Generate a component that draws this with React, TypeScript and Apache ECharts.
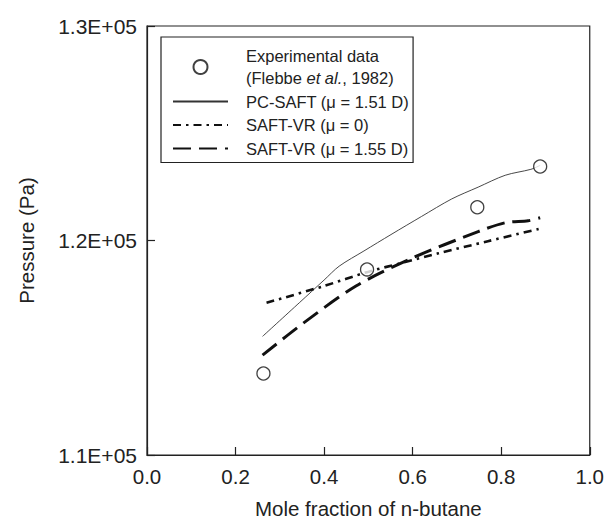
import React, { useEffect, useRef } from "react";
import * as echarts from "echarts";

const expX = [0.263, 0.497, 0.746, 0.888];
const expY = [113800, 118650, 121550, 123450];

const pcX = [0.261, 0.344, 0.4, 0.434, 0.49, 0.551, 0.62, 0.688, 0.748, 0.809, 0.867, 0.888];
const pcY = [115530, 117097, 118157, 118802, 119512, 120276, 121120, 121935, 122488, 123041, 123318, 123502];

const vr0X = [0.27, 0.4, 0.497, 0.58, 0.658, 0.77, 0.888];
const vr0Y = [117097, 117880, 118525, 118980, 119401, 119968, 120553];

const vr155X = [0.261, 0.35, 0.472, 0.598, 0.748, 0.809, 0.861, 0.888];
const vr155Y = [114654, 116100, 117880, 119171, 120415, 120829, 120922, 121060];

const seriesNames = [
  "Experimental data",
  "PC-SAFT (\u03bc = 1.51 D)",
  "SAFT-VR (\u03bc = 0)",
  "SAFT-VR (\u03bc = 1.55 D)",
];

const xTicks = { min: 0, max: 1, interval: 0.2 };
const yTicks = { min: 110000, max: 130000, interval: 10000 };

const pair = (xs: number[], ys: number[]) => xs.map((x, i) => [x, ys[i]]);

const FONT = "Liberation Sans, Arial, Helvetica, sans-serif";
const INK = "#222";
const HIDDEN = "rgba(0,0,0,0)";

export default function App() {
  const ref = useRef<HTMLDivElement>(null);
  useEffect(() => {
    if (!ref.current) return;
    const chart = echarts.init(ref.current, undefined, { renderer: "svg" });
    chart.setOption({
      animation: false,
      backgroundColor: "#fff",
      textStyle: { fontFamily: FONT, color: INK },
      grid: {
        left: 147,
        right: 15,
        top: 26,
        bottom: 64,
        show: true,
        borderColor: INK,
        borderWidth: 1.2,
        backgroundColor: "transparent",
      },
      xAxis: {
        type: "value",
        min: xTicks.min,
        max: xTicks.max,
        interval: xTicks.interval,
        name: "Mole fraction of n-butane",
        nameLocation: "middle",
        nameGap: 43,
        nameTextStyle: { fontSize: 20.5, color: INK, fontFamily: FONT },
        axisLine: { show: true, lineStyle: { color: INK, width: 1.2 } },
        axisTick: { show: true, inside: true, length: 8, lineStyle: { color: INK, width: 1.2 } },
        axisLabel: {
          fontSize: 20.5,
          color: INK,
          margin: 11,
          fontFamily: FONT,
          formatter: (v: number) => v.toFixed(1),
        },
        splitLine: { show: false },
      },
      yAxis: {
        type: "value",
        min: yTicks.min,
        max: yTicks.max,
        interval: yTicks.interval,
        name: "Pressure (Pa)",
        nameLocation: "middle",
        nameGap: 110,
        nameRotate: 90,
        nameTextStyle: { fontSize: 20.5, color: INK, fontFamily: FONT },
        axisLine: { show: true, lineStyle: { color: INK, width: 1.2 } },
        axisTick: { show: true, inside: true, length: 8, lineStyle: { color: INK, width: 1.2 } },
        axisLabel: {
          fontSize: 21,
          color: INK,
          margin: 10,
          fontFamily: FONT,
          formatter: (v: number) => {
            const e = Math.floor(Math.log10(v));
            const m = v / Math.pow(10, e);
            return m.toFixed(1) + "E+" + String(e).padStart(2, "0");
          },
        },
        splitLine: { show: false },
      },
      legend: {
        orient: "vertical",
        left: 161,
        top: 37,
        padding: [8, 4, 3, 11],
        itemWidth: 55,
        itemHeight: 14,
        itemGap: 1.5,
        borderColor: INK,
        borderWidth: 1.2,
        backgroundColor: "#fff",
        data: seriesNames,
        textStyle: {
          fontSize: 16.5,
          color: INK,
          fontFamily: FONT,
          padding: [0, 0, 0, 13],
          lineHeight: 22,
          rich: {
            a: { fontSize: 16.5, color: INK, fontFamily: FONT, lineHeight: 22 },
            i: { fontSize: 16.5, color: INK, fontFamily: FONT, fontStyle: "italic", lineHeight: 22 },
          },
        },
        formatter: (name: string) =>
          name === seriesNames[0]
            ? "{a|Experimental data}\n{a|(Flebbe }{i|et al.}{a|, 1982)}"
            : "{a|" + name + "}",
      },
      series: [
        {
          name: seriesNames[1],
          type: "line",
          data: pair(pcX, pcY),
          symbol: "circle",
          showSymbol: false,
          smooth: 0.3,
          lineStyle: { color: "#333", width: 0.9, type: "solid" },
          itemStyle: { color: HIDDEN, borderWidth: 0 },
          z: 2,
        },
        {
          name: seriesNames[2],
          type: "line",
          data: pair(vr0X, vr0Y),
          symbol: "circle",
          showSymbol: false,
          smooth: 0.3,
          lineStyle: { color: "#111", width: 2.6, type: [8, 5, 2.5, 5] },
          itemStyle: { color: HIDDEN, borderWidth: 0 },
          z: 2,
        },
        {
          name: seriesNames[3],
          type: "line",
          data: pair(vr155X, vr155Y),
          symbol: "circle",
          showSymbol: false,
          smooth: 0.3,
          lineStyle: { color: "#111", width: 3, type: [18, 8] },
          itemStyle: { color: HIDDEN, borderWidth: 0 },
          z: 2,
        },
        {
          name: seriesNames[0],
          type: "scatter",
          data: pair(expX, expY),
          symbol: "circle",
          symbolSize: 13,
          itemStyle: { color: "#fff", borderColor: "#111", borderWidth: 1.3 },
          z: 3,
        },
      ],
    });
    return () => chart.dispose();
  }, []);
  return <div ref={ref} style={{ width: 607, height: 524, position: "absolute", left: 0, top: 0 }} />;
}
